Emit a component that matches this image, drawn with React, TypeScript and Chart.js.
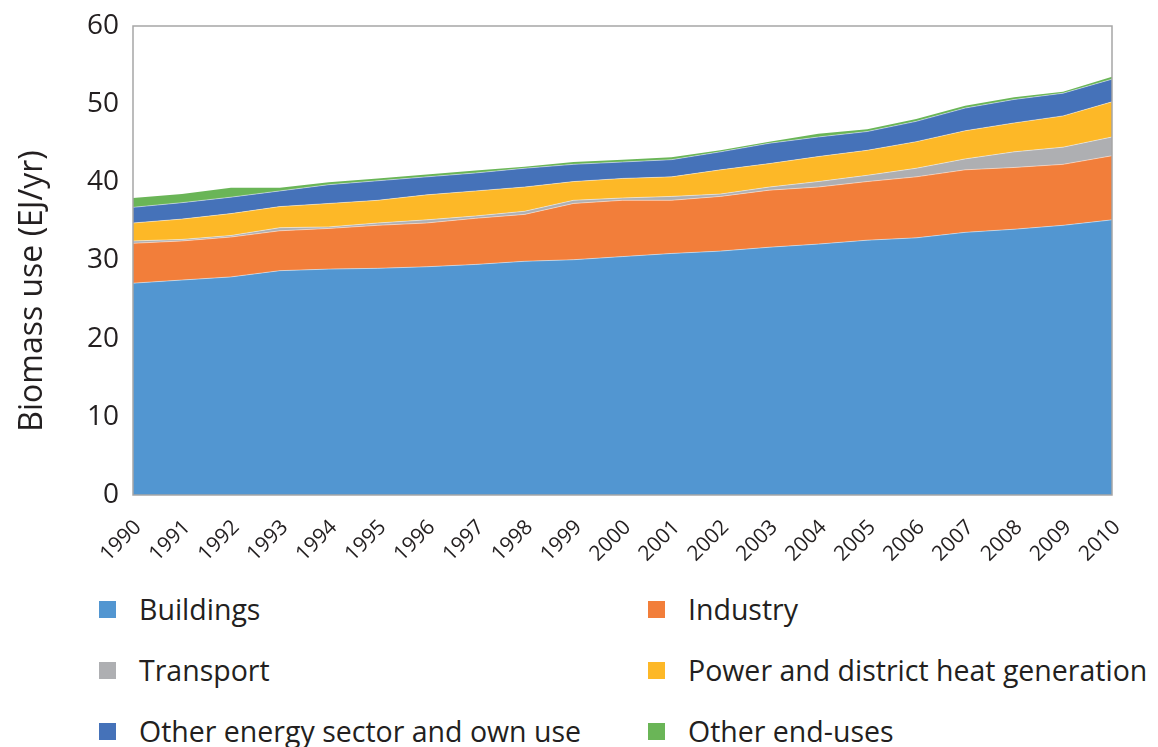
import React, { useEffect, useRef } from "react";
import { Chart, registerables } from "chart.js";

Chart.register(...registerables);

const years = ["1990","1991","1992","1993","1994","1995","1996","1997","1998","1999","2000","2001","2002","2003","2004","2005","2006","2007","2008","2009","2010"];
const buildings = [27.1, 27.5, 27.9, 28.7, 28.9, 29.0, 29.2, 29.5, 29.9, 30.1, 30.5, 30.9, 31.2, 31.7, 32.1, 32.6, 32.9, 33.6, 34.0, 34.5, 35.2];
const industry = [5.1, 5.0, 5.1, 5.1, 5.2, 5.5, 5.6, 5.9, 6.0, 7.2, 7.2, 6.8, 7.0, 7.3, 7.3, 7.5, 7.8, 8.0, 7.9, 7.8, 8.2];
const transport = [0.3, 0.2, 0.2, 0.4, 0.2, 0.3, 0.4, 0.3, 0.4, 0.4, 0.3, 0.5, 0.3, 0.4, 0.7, 0.8, 1.1, 1.4, 2.0, 2.2, 2.4];
const power = [2.3, 2.6, 2.8, 2.7, 3.0, 2.9, 3.2, 3.2, 3.1, 2.4, 2.5, 2.5, 3.1, 3.0, 3.2, 3.2, 3.4, 3.6, 3.7, 4.0, 4.5];
const otherEnergy = [2.0, 2.1, 2.1, 2.0, 2.4, 2.5, 2.3, 2.3, 2.4, 2.2, 2.1, 2.2, 2.3, 2.6, 2.5, 2.4, 2.6, 2.9, 3.0, 2.9, 2.9];
const otherEndUses = [1.2, 1.1, 1.2, 0.4, 0.3, 0.3, 0.3, 0.3, 0.2, 0.3, 0.3, 0.3, 0.2, 0.2, 0.4, 0.3, 0.3, 0.3, 0.3, 0.2, 0.3];

const seriesNames = ["Buildings", "Industry", "Transport", "Power and district heat generation", "Other energy sector and own use", "Other end-uses"];
const seriesValues = [buildings, industry, transport, power, otherEnergy, otherEndUses];
const seriesColors = ["#5296d1", "#f27e3a", "#aeafb2", "#fdb827", "#4572b9", "#6ab557"];

const yTicks = [0, 10, 20, 30, 40, 50, 60];
const yTitle = "Biomass use (EJ/yr)";

const FONT = "'Open Sans', 'DejaVu Sans', sans-serif";
const TEXT = "#231f20";

const borderBox = {
  id: "borderBox",
  afterDatasetsDraw(chart: any) {
    const { ctx, chartArea } = chart;
    ctx.save();
    ctx.strokeStyle = "#a6a6a6";
    ctx.lineWidth = 1.5;
    ctx.strokeRect(chartArea.left, chartArea.top, chartArea.right - chartArea.left, chartArea.bottom - chartArea.top);
    ctx.restore();
  },
};

const yTitlePlugin = {
  id: "yTitlePlugin",
  afterDraw(chart: any) {
    const { ctx } = chart;
    ctx.save();
    ctx.translate(25, 283);
    ctx.rotate(-Math.PI / 2);
    ctx.fillStyle = TEXT;
    ctx.font = `32px ${FONT}`;
    ctx.textAlign = "center";
    ctx.textBaseline = "middle";
    ctx.fillText(yTitle, 0, 0);
    ctx.restore();
  },
};

export default function App() {
  const ref = useRef<HTMLCanvasElement | null>(null);

  useEffect(() => {
    if (!ref.current) return;
    const chart = new Chart(ref.current, {
      type: "line",
      data: {
        labels: years,
        datasets: seriesNames.map((name, i) => ({
          label: name,
          data: seriesValues[i],
          backgroundColor: seriesColors[i],
          borderColor: "rgba(255,255,255,0.45)",
          borderWidth: i === seriesNames.length - 1 ? 0 : 1,
          fill: i === 0 ? "origin" : "-1",
          pointRadius: 0,
          tension: 0,
        })),
      },
      options: {
        animation: false,
        responsive: true,
        maintainAspectRatio: false,
        layout: { padding: { top: 18, right: 38, left: 0, bottom: 0 } },
        plugins: { legend: { display: false }, tooltip: { enabled: false } },
        scales: {
          x: {
            grid: { display: false, drawTicks: false },
            border: { display: false },
            ticks: {
              autoSkip: false,
              minRotation: 45,
              maxRotation: 45,
              padding: 20,
              labelOffset: 5,
              color: TEXT,
              font: { family: FONT, size: 21 },
            },
            afterFit(scale: any) {
              scale.height = 93;
            },
          },
          y: {
            stacked: true,
            min: 0,
            max: 60,
            grid: { display: false, drawTicks: false },
            border: { display: false },
            afterBuildTicks(scale: any) {
              scale.ticks = yTicks.map((v) => ({ value: v }));
            },
            ticks: {
              padding: 14,
              color: TEXT,
              font: { family: FONT, size: 28 },
            },
            afterFit(scale: any) {
              scale.width = 125;
              scale.paddingTop = 0;
              scale.paddingBottom = 0;
            },
          },
        },
      },
      plugins: [borderBox, yTitlePlugin],
    });
    return () => chart.destroy();
  }, []);

  const legendPos = [
    { left: 91, center: 601 },
    { left: 640, center: 601 },
    { left: 91, center: 662 },
    { left: 640, center: 662 },
    { left: 91, center: 723 },
    { left: 640, center: 723 },
  ];

  return (
    <div style={{ position: "relative", width: 1142, height: 739 }}>
      <div style={{ position: "absolute", left: 0, top: 0, width: 1142, height: 580 }}>
        <canvas ref={ref} />
      </div>
      {seriesNames.map((name, i) => (
        <div
          key={name}
          style={{
            position: "absolute",
            left: legendPos[i].left,
            top: legendPos[i].center - 20,
            height: 40,
            display: "flex",
            alignItems: "center",
            whiteSpace: "nowrap",
          }}
        >
          <span style={{ display: "inline-block", width: 17, height: 17, background: seriesColors[i], marginRight: 23 }} />
          <span style={{ fontFamily: FONT, fontSize: 28.5, color: TEXT, lineHeight: "40px" }}>{name}</span>
        </div>
      ))}
    </div>
  );
}
